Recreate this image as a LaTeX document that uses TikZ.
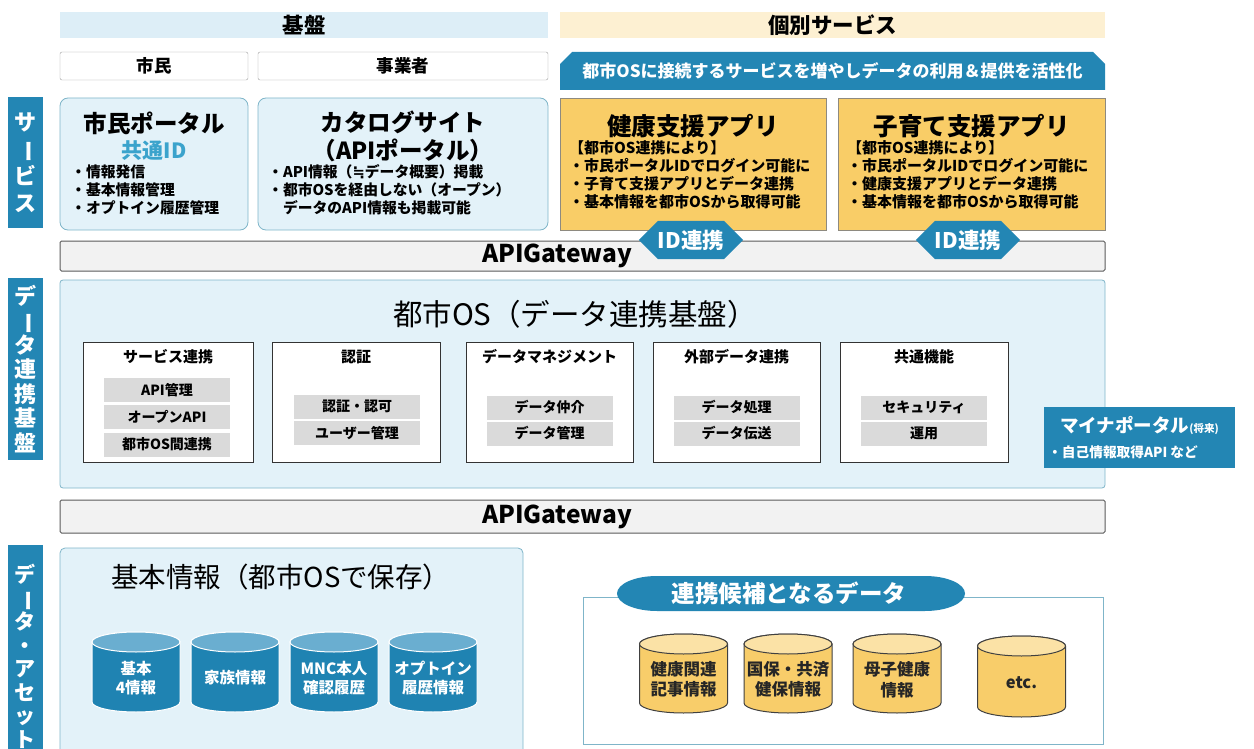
\documentclass[tikz,border=0pt]{standalone}
\usepackage{fontspec}
\setmainfont{Noto Sans CJK JP}
\newfontfamily\djv{DejaVu Sans}
\usetikzlibrary{shapes.misc,shapes.symbols,shapes.geometric}
\definecolor{hdrB}{HTML}{DDEEF7}
\definecolor{hdrY}{HTML}{FDF0D2}
\definecolor{panelF}{HTML}{E3F2F9}
\definecolor{panelB}{HTML}{7FB5C9}
\definecolor{dk}{HTML}{2386B4}
\definecolor{gold}{HTML}{F9CD67}
\definecolor{goldB}{HTML}{8E8A80}
\definecolor{itemG}{HTML}{DADADA}
\definecolor{gwF}{HTML}{F2F2F2}
\definecolor{gwB}{HTML}{5A5A5A}
\definecolor{idc}{HTML}{3BA3CC}
\definecolor{cylB}{HTML}{1F83B2}
\definecolor{cylBt}{HTML}{6AAED0}
\definecolor{cylY}{HTML}{F8CD6A}
\definecolor{cylYt}{HTML}{FBE2A6}
\newcommand{\vbar}{\rotatebox[origin=c]{-90}{ー}}
\newcommand{\fsz}[2]{\fontsize{#1pt}{#2pt}\selectfont}
% cylinder: #1 name #2 cx #3 top #4 bottom #5 body #6 top colour #7 outline #8 text style #9 text
\newcommand{\dbcyl}[9]{%
  \path[fill=#5,draw=#7,line width=1pt] ({#2-44},{#3+10}) -- ({#2-44},{#4-10})
     arc[start angle=180,end angle=360,x radius=44pt,y radius=10pt]
     -- ({#2+44},{#3+10})
     arc[start angle=0,end angle=180,x radius=44pt,y radius=10pt] -- cycle;
  \path[fill=#6,draw=#7,line width=1pt] (#2,{#3+10}) ellipse[x radius=44pt,y radius=10pt];
  \node[#8] (#1) at (#2,{(#3+#4)/2+6}) {#9};
}
\begin{document}
\begin{tikzpicture}[x=1pt,y=-1pt,
  hdr/.style={minimum height=26pt,inner sep=0pt,font=\bfseries\fsz{21.5}{24}},
  wbox/.style={draw=gray!75,fill=white,rounded corners=2pt,minimum height=28pt,inner sep=0pt,font=\bfseries\fsz{17.5}{20}},
  panel/.style={draw=panelB,fill=panelF,rounded corners=8pt,line width=0.8pt,inner sep=0pt},
  goldbox/.style={draw=goldB,fill=gold,line width=0.8pt,inner sep=0pt,minimum height=132pt},
  vlabel/.style={fill=dk,text=white,align=center,minimum width=35pt,inner sep=0pt},
  gw/.style={draw=gwB,fill=gwF,line width=1pt,rounded corners=1.5pt,minimum width=1045pt,inner sep=0pt},
  gwtext/.style={font=\bfseries\fsz{24.5}{28}},
  bigtitle/.style={font=\bfseries\fsz{23.5}{28}},
  bullets/.style={align=left,inner sep=0pt,anchor=north west,font=\bfseries\fsz{14.8}{18}},
  gbullets/.style={align=left,inner sep=0pt,anchor=north west,font=\bfseries\fsz{15}{18}},
  subbox/.style={draw=black!80,fill=white,line width=0.9pt,minimum height=120pt,inner sep=0pt},
  subtitle/.style={font=\bfseries\fsz{15}{17}},
  item/.style={fill=itemG,minimum width=126pt,minimum height=24pt,inner sep=0pt,font=\bfseries\fsz{14}{16}},
  hexa/.style={signal,signal to=east and west,fill=dk,text=white,minimum width=98pt,minimum height=38pt,inner sep=0pt,font=\bfseries\fsz{21.5}{24}},
  bcyltext/.style={text=white,align=center,font=\bfseries\fsz{15.5}{18.5}},
  ycyltext/.style={text=black!85,align=center,font=\bfseries\fsz{16.5}{20.5}}
]
\useasboundingbox (0,0) rectangle (1254,749);
\clip (0,0) rectangle (1254,749);

% headers
\node[hdr,fill=hdrB,minimum width=488pt] (kiban) at (304,25) {基盤};
\node[hdr,fill=hdrY,minimum width=545pt] (kobetsu) at (832.5,25) {個別サービス};
\node[wbox,minimum width=188pt] (shimin) at (154,66) {市民};
\node[wbox,minimum width=290pt] (jigyo) at (403,66) {事業者};
\node[chamfered rectangle,chamfered rectangle corners={north west,north east},chamfered rectangle xsep=6pt,chamfered rectangle ysep=6pt,
      fill=dk,text=white,minimum width=545pt,minimum height=38pt,inner sep=0pt,font=\bfseries\fsz{17}{20}] (banner) at (832.5,71)
      {都市OSに接続するサービスを増やしデータの利用＆提供を活性化};

% left labels
\node[vlabel,minimum height=131pt,font=\bfseries\fsz{22}{27}] (lsvc) at (25.5,162.5) {サ\\\vbar\\ビ\\ス};
\node[vlabel,minimum height=182pt,font=\bfseries\fsz{22}{24.5}] (ldata) at (25.5,369) {デ\\\vbar\\タ\\連\\携\\基\\盤};
\node[vlabel,minimum height=225pt,font=\bfseries\fsz{21}{23.5},anchor=north] (lasset) at (25.5,545) {\\[-8pt]デ\\\vbar\\タ\\・\\ア\\セ\\ッ\\ト};

% service panels
\node[panel,minimum width=188pt,minimum height=132pt] (portal) at (154,164) {};
\node[bigtitle] (portalT) at (154,123) {市民ポータル};
\node[bigtitle,text=idc,font=\bfseries\fsz{21}{24}] (portalID) at (154,151) {共通ID};
\node[bullets] (portalB) at (71,165) {・情報発信\\・基本情報管理\\・オプトイン履歴管理};

\node[panel,minimum width=290pt,minimum height=132pt] (catalog) at (403,164) {};
\node[bigtitle,align=center] (catalogT) at (403,136) {カタログサイト\\（APIポータル）};
\node[bullets] (catalogB) at (268,164) {・API情報（{\djv\bfseries ≒}データ概要）掲載\\・都市OSを経由しない（オープン）\\\hspace*{1em}データのAPI情報も掲載可能};

\node[goldbox,minimum width=266pt] (health) at (693,164) {};
\node[bigtitle,font=\bfseries\fsz{24.5}{28}] (healthT) at (693,126) {健康支援アプリ};
\node[gbullets] (healthB) at (569,140) {【都市OS連携により】\\・市民ポータルIDでログイン可能に\\・子育て支援アプリとデータ連携\\・基本情報を都市OSから取得可能};

\node[goldbox,minimum width=267pt] (child) at (971.5,164) {};
\node[bigtitle,font=\bfseries\fsz{24.5}{28}] (childT) at (971.5,126) {子育て支援アプリ};
\node[gbullets] (childB) at (847,140) {【都市OS連携により】\\・市民ポータルIDでログイン可能に\\・健康支援アプリとデータ連携\\・基本情報を都市OSから取得可能};

% gateway 1
\node[gw,minimum height=30pt] (gw1) at (582.5,256) {};
\node[gwtext] (gw1T) at (557,256) {APIGateway};
\node[hexa] (id1) at (691,240) {ID連携};
\node[hexa] (id2) at (968,240) {ID連携};

% city OS
\node[panel,rounded corners=3pt,minimum width=1045pt,minimum height=208pt] (os) at (582.5,384) {};
\node[font=\fsz{29.5}{34}] (osT) at (575,314) {都市OS（データ連携基盤）};

\node[subbox,minimum width=170pt] (sA) at (168,402) {};
\node[subtitle] (sAT) at (168,357) {サービス連携};
\node[item] (a1) at (167,390) {API管理};
\node[item] (a2) at (167,417) {オープンAPI};
\node[item] (a3) at (167,444.5) {都市OS間連携};

\node[subbox,minimum width=168pt] (sB) at (356,402) {};
\node[subtitle] (sBT) at (356,357) {認証};
\node[item] (b1) at (357,406.5) {認証・認可};
\node[item] (b2) at (357,433) {ユーザー管理};

\node[subbox,minimum width=167pt] (sC) at (549.5,402) {};
\node[subtitle] (sCT) at (549.5,357) {データマネジメント};
\node[item] (c1) at (549.5,407.5) {データ仲介};
\node[item] (c2) at (549.5,433.5) {データ管理};

\node[subbox,minimum width=167pt] (sD) at (736.5,402) {};
\node[subtitle] (sDT) at (736.5,357) {外部データ連携};
\node[item] (d1) at (736.5,407.5) {データ処理};
\node[item] (d2) at (736.5,433.5) {データ伝送};

\node[subbox,minimum width=168pt] (sE) at (924,402) {};
\node[subtitle] (sET) at (924,357) {共通機能};
\node[item] (e1) at (924,407.5) {セキュリティ};
\node[item] (e2) at (924,433.5) {運用};

% myna portal
\node[fill=dk,minimum width=191pt,minimum height=61pt,inner sep=0pt] (myna) at (1139.5,437.5) {};
\node[text=white,anchor=west,inner sep=0pt,font=\bfseries\fsz{18.5}{21}] (mynaT) at (1060,425) {マイナポータル{\fsz{10.5}{12}(将来)}};
\node[text=white,anchor=west,inner sep=0pt,font=\bfseries\fsz{13.7}{16}] (mynaB) at (1048,452) {・自己情報取得API など};

% gateway 2
\node[gw,minimum height=33pt] (gw2) at (582.5,516.5) {};
\node[gwtext] (gw2T) at (557,517) {APIGateway};

% basic info
\node[panel,rounded corners=5pt,minimum width=463pt,minimum height=240pt] (basic) at (291.5,668) {};
\node[font=\fsz{27.5}{32},anchor=west,inner sep=0pt] (basicT) at (111,577) {基本情報（都市OSで保存）};
\dbcyl{cy1}{136}{632}{712}{cylB}{cylBt}{white}{bcyltext}{基本\\4情報}
\dbcyl{cy2}{235}{632}{712}{cylB}{cylBt}{white}{bcyltext}{家族情報}
\dbcyl{cy3}{334}{632}{712}{cylB}{cylBt}{white}{bcyltext}{MNC本人\\確認履歴}
\dbcyl{cy4}{433}{632}{712}{cylB}{cylBt}{white}{bcyltext}{オプトイン\\履歴情報}

% candidate data
\node[draw=panelB,line width=1pt,fill=white,minimum width=520pt,minimum height=147pt,inner sep=0pt] (cand) at (843,670.5) {};
\path[fill=dk] (657,576) -- (925,576) arc[start angle=90,end angle=-90,x radius=40pt,y radius=17.5pt]
   -- (657,611) arc[start angle=270,end angle=90,x radius=40pt,y radius=17.5pt] -- cycle;
\node[text=white,font=\bfseries\fsz{23.5}{26}] (candT) at (789,593.5) {連携候補となるデータ};
\dbcyl{y1}{683.5}{634}{713}{cylY}{cylYt}{black!75}{ycyltext}{健康関連\\記事情報}
\dbcyl{y2}{788}{634}{713}{cylY}{cylYt}{black!75}{ycyltext}{国保・共済\\健保情報}
\dbcyl{y3}{897}{634}{713}{cylY}{cylYt}{black!75}{ycyltext}{母子健康\\情報}
\dbcyl{y4}{1021.5}{636}{717}{cylY}{cylYt}{black!75}{ycyltext}{etc.}
\end{tikzpicture}
\end{document}
